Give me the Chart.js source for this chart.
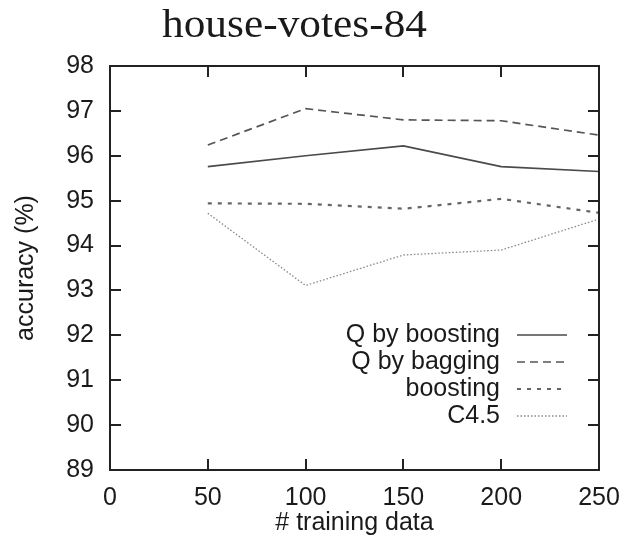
<!DOCTYPE html>
<html>
<head>
<meta charset="utf-8">
<script src="https://cdn.jsdelivr.net/npm/chart.js@4.4.1/dist/chart.umd.min.js"></script>
<style>
  html, body { margin: 0; padding: 0; background: #fff; }
  #wrap { width: 623px; height: 538px; position: relative; }
</style>
</head>
<body>
<div id="wrap"><canvas id="c" width="623" height="538"></canvas></div>
<script>
// training-set sizes
const trainingSizes = [50, 100, 150, 200, 250];

// accuracy (%) per method
const qByBoosting = [95.76, 96.00, 96.22, 95.76, 95.65];
const qByBagging  = [96.24, 97.05, 96.80, 96.78, 96.46];
const boosting    = [94.94, 94.93, 94.82, 95.04, 94.73];
const c45         = [94.72, 93.11, 93.79, 93.90, 94.59];

// axis ticks
const xTicks = [0, 50, 100, 150, 200, 250];
const yTicks = [89, 90, 91, 92, 93, 94, 95, 96, 97, 98];

const FONT = "'Liberation Sans', Arial, sans-serif";
const FSIZE = 25;
const INK = '#1a1a1a';

function pts(vals) {
  return trainingSizes.map((x, i) => ({ x: x, y: vals[i] }));
}

const seriesDefs = [
  { label: 'Q by boosting', data: qByBoosting, color: '#4a4a4a', width: 1.7, dash: [] },
  { label: 'Q by bagging',  data: qByBagging,  color: '#555555', width: 1.7, dash: [8, 5] },
  { label: 'boosting',      data: boosting,    color: '#666666', width: 2.2, dash: [4, 6] },
  { label: 'C4.5',          data: c45,         color: '#888888', width: 1.3, dash: [1.5, 2] }
];

// frame, inward ticks, title and key
const framePlugin = {
  id: 'frame',
  afterDatasetsDraw(chart) {
    const { ctx, chartArea: a, scales } = chart;
    const xs = scales.x, ys = scales.y;
    ctx.save();
    ctx.strokeStyle = '#222';
    ctx.lineWidth = 2;
    ctx.setLineDash([]);
    ctx.strokeRect(a.left, a.top, a.right - a.left, a.bottom - a.top);
    const tl = 11;
    ctx.beginPath();
    xTicks.forEach(v => {
      const px = Math.round(xs.getPixelForValue(v));
      if (px <= a.left + 1 || px >= a.right - 1) return;
      ctx.moveTo(px, a.bottom); ctx.lineTo(px, a.bottom - tl);
      ctx.moveTo(px, a.top); ctx.lineTo(px, a.top + tl);
    });
    yTicks.forEach(v => {
      const py = Math.round(ys.getPixelForValue(v));
      if (py <= a.top + 1 || py >= a.bottom - 1) return;
      ctx.moveTo(a.left, py); ctx.lineTo(a.left + tl, py);
      ctx.moveTo(a.right, py); ctx.lineTo(a.right - tl, py);
    });
    ctx.stroke();

    // key
    ctx.font = FSIZE + 'px ' + FONT;
    ctx.fillStyle = INK;
    ctx.textAlign = 'right';
    ctx.textBaseline = 'middle';
    const textRight = 500, s0 = 517, s1 = 567;
    const rowY = [335, 362, 389, 416];
    chart.data.datasets.forEach((ds, i) => {
      const y = rowY[i];
      ctx.fillText(ds.label, textRight, y);
      ctx.save();
      ctx.strokeStyle = ds.borderColor;
      ctx.lineWidth = ds.borderWidth;
      ctx.setLineDash(ds.borderDash || []);
      ctx.beginPath();
      ctx.moveTo(s0, y); ctx.lineTo(s1, y);
      ctx.stroke();
      ctx.restore();
    });

    // title, widened a little toward a Computer Modern look
    const title = 'house-votes-84';
    ctx.font = "41px 'Liberation Serif', 'DejaVu Serif', serif";
    const w = ctx.measureText(title).width;
    const sx = 265 / w;
    ctx.translate(294.5, 37);
    ctx.scale(sx, 1);
    ctx.textAlign = 'center';
    ctx.textBaseline = 'alphabetic';
    ctx.fillStyle = INK;
    ctx.fillText(title, 0, 0);
    ctx.restore();
  }
};

new Chart(document.getElementById('c'), {
  type: 'line',
  data: {
    datasets: seriesDefs.map(s => ({
      label: s.label,
      data: pts(s.data),
      borderColor: s.color,
      borderWidth: s.width,
      borderDash: s.dash,
      pointRadius: 0,
      fill: false,
      tension: 0
    }))
  },
  options: {
    responsive: false,
    animation: false,
    devicePixelRatio: 1,
    layout: { padding: { top: 66, right: 24, left: 0, bottom: 0 } },
    plugins: { legend: { display: false }, tooltip: { enabled: false } },
    scales: {
      x: {
        type: 'linear',
        min: 0, max: 250,
        afterBuildTicks(scale) { scale.ticks = xTicks.map(v => ({ value: v })); },
        afterFit(scale) {
          scale.height = 68;
          scale.paddingLeft = 0;
          scale.paddingRight = 0;
        },
        grid: { display: false, drawTicks: false },
        border: { display: false },
        ticks: { font: { family: FONT, size: FSIZE }, color: INK, padding: 13, maxRotation: 0, autoSkip: false },
        title: { display: true, text: '# training data', font: { family: FONT, size: FSIZE }, color: INK, padding: { top: 0, bottom: 0 } }
      },
      y: {
        min: 89, max: 98,
        afterBuildTicks(scale) { scale.ticks = yTicks.map(v => ({ value: v })); },
        afterFit(scale) {
          scale.width = 110;
          scale.paddingTop = 0;
          scale.paddingBottom = 0;
        },
        grid: { display: false, drawTicks: false },
        border: { display: false },
        ticks: { font: { family: FONT, size: FSIZE }, color: INK, padding: 16, autoSkip: false },
        title: { display: true, text: 'accuracy (%)', font: { family: FONT, size: FSIZE }, color: INK, padding: { top: 11, bottom: 0 } }
      }
    }
  },
  plugins: [framePlugin]
});
</script>
</body>
</html>
